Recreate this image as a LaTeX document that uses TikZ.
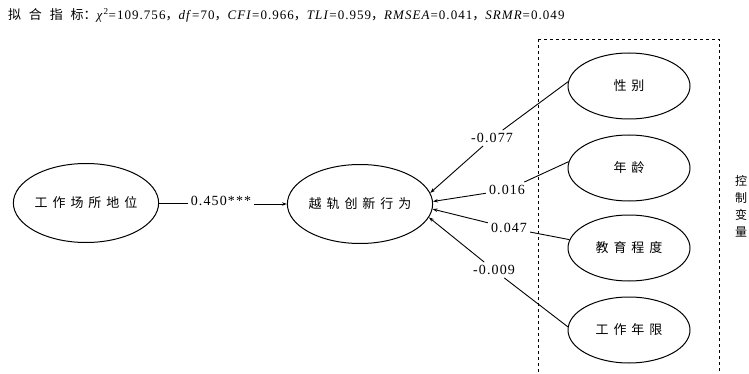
\documentclass[tikz,border=0pt]{standalone}
\usepackage{fontspec}
\setmainfont{Liberation Serif}[LetterSpace=8]
\newfontfamily\cjk{Noto Sans CJK SC}
\newfontfamily\cjksp{Noto Sans CJK SC}[LetterSpace=38]
\newfontfamily\cjkti{Noto Sans CJK SC}[LetterSpace=60]
\usetikzlibrary{shapes.geometric,arrows.meta}
\begin{document}
\begin{tikzpicture}[x=1pt,y=-1pt,
  lat/.style={ellipse,draw,line width=1pt,inner sep=0pt,font=\cjksp\fontsize{13}{15}\selectfont},
  big/.style={lat,minimum width=143pt,minimum height=79pt},
  ctl/.style={lat,minimum width=122pt,minimum height=66pt},
  arr/.style={line width=0.9pt,-{Stealth[length=5pt,width=3.5pt]}},
  coef/.style={inner sep=3pt,font=\fontsize{14}{16}\selectfont},
  ctlbox/.style={draw,dashed,line width=0.9pt}]
\useasboundingbox (0,0) rectangle (749,374);
% title
\node[anchor=west,inner sep=0pt,font=\fontsize{13}{15}\selectfont] (title) at (8,15)
  {{\cjkti 拟合指标}{\cjk ：}\textit{χ}\textsuperscript{2}=109.756{\cjk ，}\textit{df}=70{\cjk ，}\textit{CFI}=0.966{\cjk ，}\textit{TLI}=0.959{\cjk ，}\textit{RMSEA}=0.041{\cjk ，}\textit{SRMR}=0.049};
% control box
\draw[ctlbox] (538,39) -- (719,39) -- (719,380) (538,39) -- (538,380);
\node[inner sep=0pt,align=center,font=\cjk\fontsize{12}{17}\selectfont] (ctllab) at (741,206) {控\\制\\变\\量};
% latent nodes
\node[big] (gw) at (86,203) {工作场所地位};
\node[big] (yue) at (360,204) {越轨创新行为};
\node[ctl] (c1) at (629,86) {性别};
\node[ctl] (c2) at (629,168) {年龄};
\node[ctl] (c3) at (629,248) {教育程度};
\node[ctl] (c4) at (629,330) {工作年限};
% coefficient labels
\node[coef] (l0) at (221,201) {0.450***};
\node[coef] (l1) at (492,138) {-0.077};
\node[coef] (l2) at (507,190) {0.016};
\node[coef] (l3) at (509,228) {0.047};
\node[coef] (l4) at (494,270) {-0.009};
% paths
\draw[arr] (gw.east) -- (l0.west |- gw.east) (l0.east |- yue.west) -- (yue.west);
\draw[arr] (c1.176) -- (l1) -- (yue.9);
\draw[arr] (c2.174) -- (l2) -- (yue.2);
\draw[arr] (c3.172) -- (l3) -- (yue.-4);
\draw[arr] (c4.177) -- (l4) -- (yue.-11);
\end{tikzpicture}
\end{document}
